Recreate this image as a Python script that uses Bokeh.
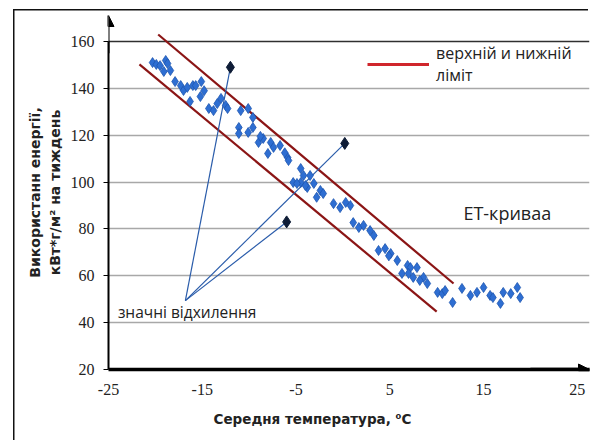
import math
from bokeh.plotting import figure
from bokeh.models import (Range1d, FixedTicker, Grid, Label, Arrow, NormalHead,
                          Legend, LegendItem, Title)
from bokeh.embed import file_html
from bokeh.resources import INLINE

# ---- data ----
x_ticks = [-25, -15, -5, 5, 15, 25]
y_ticks = [20, 40, 60, 80, 100, 120, 140, 160]

temp = [-20.3, -19.9, -19.5, -18.9, -18.7, -19.1, -18.4, -17.9, -17.3, -17.0,
        -16.6, -16.0, -15.7, -15.1, -16.3, -15.2, -14.3, -13.8, -13.0, -12.5,
        -12.3, -10.9, -10.1, -9.6, -11.1, -11.1, -10.1, -9.6, -9.0, -8.5,
        -7.7, -8.0, -7.4, -6.7, -5.9, -5.8, -4.5, -5.3, -4.5, -4.2,
        -3.8, -3.5, -4.9, -4.0, -3.1, -2.4, -2.1, -1.0, -0.3, 0.3,
        0.8, 1.1, 1.7, 2.9, 3.3, 3.8, 4.5, 5.1, 5.8, 6.3,
        6.9, 7.2, 7.0, 7.9, 7.5, 8.6, 9.0, 10.1, 10.6, 10.9,
        11.7, 12.7, 13.6, 14.3, 15.0, 15.7, 16.0, 16.8, 17.1, 17.9,
        18.6, 18.9, -14.8, -13.4, -8.8, -6.2, -2.8, 2.2, 4.9, 8.2]
energy = [151.0, 150.2, 149.7, 151.9, 150.6, 147.2, 147.6, 142.9, 141.2, 139.1,
          140.4, 141.2, 141.2, 142.9, 134.4, 136.5, 131.4, 130.5, 135.7, 132.7,
          131.4, 130.5, 131.4, 127.6, 123.3, 120.7, 121.2, 123.3, 116.9, 118.6,
          116.9, 112.2, 114.8, 115.6, 110.5, 109.2, 105.8, 99.8, 99.8, 102.8,
          97.7, 102.8, 99.4, 98.5, 99.4, 96.4, 95.1, 90.8, 89.1, 91.3,
          90.0, 82.7, 80.6, 79.3, 77.2, 70.8, 71.6, 69.5, 66.5, 61.0,
          64.4, 63.5, 61.0, 63.5, 59.3, 59.3, 56.7, 52.9, 52.4, 53.7,
          48.6, 54.6, 51.6, 52.9, 55.0, 51.6, 50.7, 48.2, 52.9, 52.4,
          55.0, 50.7, 139.0, 133.5, 119.5, 112.5, 93.5, 81.5, 68.5, 58.0]

outlier_temp = [-12.0, 0.2, -6.0]
outlier_energy = [149.0, 116.5, 83.0]

upper_limit_temp = [-19.7, 11.8]
upper_limit_energy = [163.0, 56.7]
lower_limit_temp = [-21.7, 10.0]
lower_limit_energy = [150.2, 44.7]

callout_temp = -16.8
callout_energy = 49.4

# ---- figure ----
p = figure(width=592, height=440, output_backend="svg", toolbar_location=None,
           x_range=Range1d(-25, 26.3), y_range=Range1d(20, 171.1),
           min_border_left=108, min_border_right=3, min_border_top=15,
           min_border_bottom=71)
p.outline_line_color = None
p.background_fill_color = "white"
p.border_fill_color = "white"
p.border_fill_alpha = 0.0
p.styles = {
    "background": "linear-gradient(#111,#111) 13px 9px / 1.5px 100% no-repeat, "
                  "linear-gradient(#111,#111) 13px 9px / 575px 1.5px no-repeat, white"
}

TICK_FONT = "Liberation Sans Narrow"
TITLE_FONT = "DejaVu Sans"

p.xaxis.ticker = FixedTicker(ticks=x_ticks)
p.xaxis.major_label_overrides = {t: str(t) for t in x_ticks}
p.xaxis.axis_line_width = 3.5
p.xaxis.axis_line_color = "black"
p.xaxis.major_tick_out = 0
p.xaxis.major_tick_in = 0
p.xaxis.minor_tick_line_color = None
p.xaxis.major_label_text_font = TICK_FONT
p.xaxis.major_label_text_font_size = "16px"
p.xaxis.major_label_text_color = "#222222"
p.xaxis.major_label_standoff = 14

x_title = Title(text="Середня температура, ⁰С", align="left", offset=105,
                text_font=TITLE_FONT, text_font_style="bold",
                text_font_size="13.5px", text_color="#222222", standoff=22)
p.add_layout(x_title, "below")

p.yaxis.ticker = FixedTicker(ticks=y_ticks)
p.yaxis.bounds = (y_ticks[0], y_ticks[-1])
p.yaxis.axis_line_width = 2
p.yaxis.axis_line_color = "black"
p.yaxis.major_tick_out = 5
p.yaxis.major_tick_in = 0
p.yaxis.major_tick_line_width = 1
p.yaxis.minor_tick_line_color = None
p.yaxis.major_label_text_font = TICK_FONT
p.yaxis.major_label_text_font_size = "16px"
p.yaxis.major_label_text_color = "#222222"
p.yaxis.major_label_standoff = 9
p.yaxis.axis_label = "Використанн енергії,\nкВт*г/м² на тиждень"
p.yaxis.axis_label_text_font = TITLE_FONT
p.yaxis.axis_label_text_font_style = "bold"
p.yaxis.axis_label_text_font_size = "14px"
p.yaxis.axis_label_text_color = "#222222"
p.yaxis.axis_label_standoff = 5

p.xgrid.visible = False
p.ygrid.ticker = FixedTicker(ticks=y_ticks[1:-1])
p.ygrid.grid_line_color = "#A8A8A8"
p.ygrid.grid_line_width = 1.5
p.ygrid.bounds = (-25, 25)
top_grid = Grid(dimension=1, ticker=FixedTicker(ticks=[y_ticks[-1]]),
                grid_line_color="#303030", grid_line_width=1.5, bounds=(-25, 25))
p.add_layout(top_grid)

# arrows at axis ends
p.add_layout(Arrow(x_start=-25, y_start=155, x_end=-25, y_end=171.1,
                   line_width=2, line_color="black",
                   end=NormalHead(size=11, fill_color="black", line_color="black")))
p.add_layout(Arrow(x_start=20, y_start=20, x_end=26.3, y_end=20,
                   line_width=3.5, line_color="black",
                   end=NormalHead(size=11, fill_color="black", line_color="black")))

# limit lines
lim = p.multi_line([upper_limit_temp, lower_limit_temp],
                   [upper_limit_energy, lower_limit_energy],
                   line_color="#8B1515", line_width=2.2)

# callout leader lines
p.segment(x0=[callout_temp] * len(outlier_temp), y0=[callout_energy] * len(outlier_energy),
          x1=outlier_temp, y1=outlier_energy, line_color="#2A5CAA", line_width=1.2)

# scatter
p.scatter(temp, energy, marker="diamond", size=10, fill_color="#2E6ED2",
          line_color="#1D55B0", line_width=0.8)
p.scatter(outlier_temp, outlier_energy, marker="diamond", size=12,
          fill_color="#0E1C36", line_color="#0E1C36")

# legend for the limit lines
leg_r = p.line(x=[float("nan"), float("nan")], y=[float("nan"), float("nan")],
               line_color="#D0262C", line_width=3)
legend = Legend(items=[LegendItem(label="верхній и нижній\nліміт", renderers=[leg_r])],
                location=(259, 283), glyph_width=62, glyph_height=20,
                label_standoff=7, padding=0, margin=0, spacing=0,
                border_line_color=None, background_fill_alpha=0,
                label_text_font="Open Sans", label_text_font_size="16px",
                label_text_color="#222222")
p.add_layout(legend)

# texts
p.add_layout(Label(x=callout_temp - 7.2, y=44.75, text="значні відхилення",
                   text_font="Open Sans", text_font_size="15.5px",
                   text_color="#222222", text_baseline="middle", text_align="left"))
p.add_layout(Label(x=12.85, y=86.6, text="ЕТ-криваа",
                   text_font="Open Sans", text_font_size="18px",
                   text_color="#222222", text_baseline="middle", text_align="left"))

open("out.html", "w").write(file_html(p, INLINE))
